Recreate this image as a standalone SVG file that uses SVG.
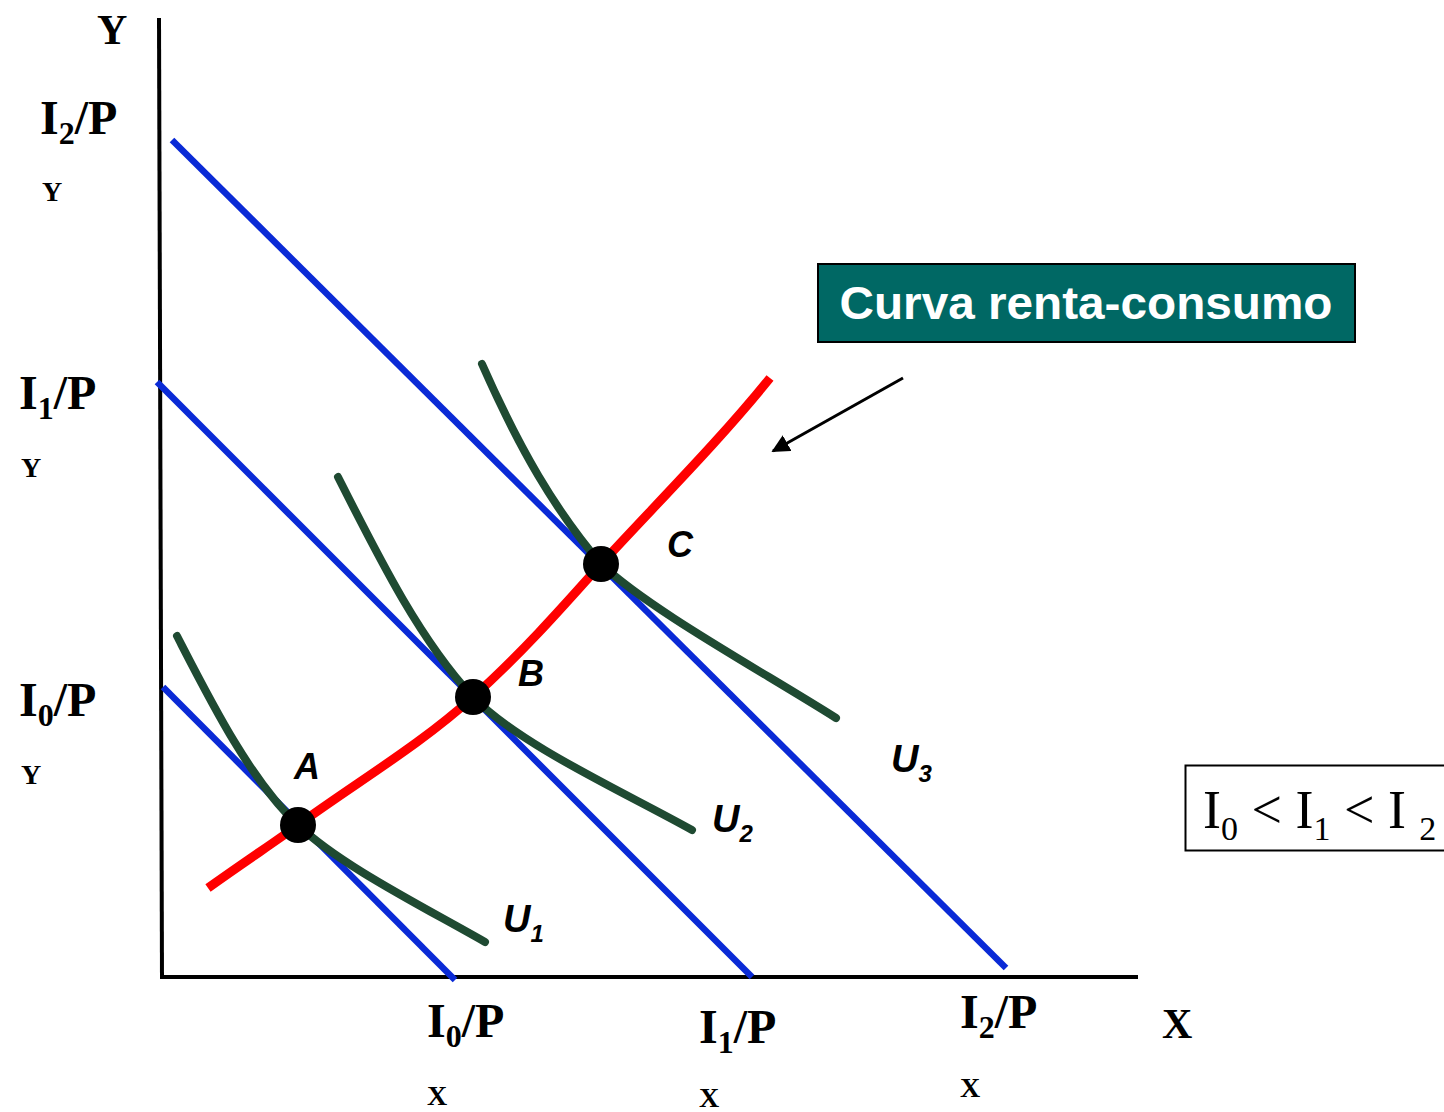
<svg xmlns="http://www.w3.org/2000/svg" width="1444" height="1112" viewBox="0 0 1444 1112">
<defs>
<style>
.ax{stroke:#000;stroke-width:4;fill:none}
.bl{stroke:#0a2ad6;stroke-width:6.5;fill:none}
.ic{stroke:#1f4a32;stroke-width:8;fill:none;stroke-linecap:round}
.rc{stroke:#ff0000;stroke-width:9;fill:none}
.lab{font-family:"Liberation Serif","Times New Roman",serif;font-weight:bold;fill:#000}
.pt{font-family:"Liberation Sans",Arial,sans-serif;font-weight:bold;font-style:italic;fill:#000}
</style>
<marker id="ah" viewBox="0 0 10 10" refX="9" refY="5" markerWidth="6" markerHeight="6" orient="auto" markerUnits="strokeWidth">
<path d="M0,0 L10,5 L0,10 z" fill="#000"/>
</marker>
</defs>
<rect width="1444" height="1112" fill="#fff"/>
<g id="axes">
<path class="ax" d="M159,18 L162,979"/>
<path class="ax" d="M161,977 L1138,977"/>
<text class="lab" x="97" y="44" font-size="42">Y</text>
<text class="lab" x="1162" y="1038" font-size="42">X</text>
</g>
<g id="budget-lines">
<path class="bl" d="M163,687 L455,980"/>
<path class="bl" d="M157,382 L752,977"/>
<path class="bl" d="M172,140 L1006,968"/>
</g>
<g id="connectors">
<path class="ic" d="M177,636 C210,700 250,780 298,825 C340,865 420,905 485,942"/>
<path class="ic" d="M338,477 C380,560 420,640 473,697 C520,745 620,790 692,830"/>
<path class="ic" d="M482,364 C520,450 555,510 601,564 C650,610 760,670 836,718"/>
<path class="rc" d="M208,888 C250,858 275,842 298,825 C360,780 420,745 473,697 C520,655 560,610 601,564 C660,500 720,440 770,378"/>
<path d="M903,378 L773,451" stroke="#000" stroke-width="3" fill="none" marker-end="url(#ah)"/>
</g>
<g id="point-A">
<circle cx="298" cy="825" r="18" fill="#000"/>
<text class="pt" x="294" y="779" font-size="36">A</text>
</g>
<g id="point-B">
<circle cx="473" cy="697" r="18" fill="#000"/>
<text class="pt" x="518" y="686" font-size="36">B</text>
</g>
<g id="point-C">
<circle cx="601" cy="564" r="18" fill="#000"/>
<text class="pt" x="667" y="557" font-size="36">C</text>
</g>
<g id="label-U1"><text class="pt" x="503" y="932" font-size="38">U<tspan font-size="24" dy="10">1</tspan></text></g>
<g id="label-U2"><text class="pt" x="712" y="832" font-size="38">U<tspan font-size="24" dy="10">2</tspan></text></g>
<g id="label-U3"><text class="pt" x="891" y="772" font-size="38">U<tspan font-size="24" dy="10">3</tspan></text></g>
<g id="y-labels">
<text class="lab" x="40" y="134" font-size="48">I<tspan font-size="32" dy="10">2</tspan><tspan dy="-10">/P</tspan></text>
<text class="lab" x="42" y="201" font-size="28">Y</text>
<text class="lab" x="19" y="409" font-size="48">I<tspan font-size="32" dy="10">1</tspan><tspan dy="-10">/P</tspan></text>
<text class="lab" x="21" y="477" font-size="28">Y</text>
<text class="lab" x="19" y="716" font-size="48">I<tspan font-size="32" dy="10">0</tspan><tspan dy="-10">/P</tspan></text>
<text class="lab" x="21" y="784" font-size="28">Y</text>
</g>
<g id="x-labels">
<text class="lab" x="427" y="1037" font-size="48">I<tspan font-size="32" dy="10">0</tspan><tspan dy="-10">/P</tspan></text>
<text class="lab" x="427" y="1105" font-size="28">X</text>
<text class="lab" x="699" y="1043" font-size="48">I<tspan font-size="32" dy="10">1</tspan><tspan dy="-10">/P</tspan></text>
<text class="lab" x="699" y="1107" font-size="28">X</text>
<text class="lab" x="960" y="1028" font-size="48">I<tspan font-size="32" dy="10">2</tspan><tspan dy="-10">/P</tspan></text>
<text class="lab" x="960" y="1097" font-size="28">X</text>
</g>
<g id="curva-renta-consumo-box">
<rect x="818" y="264" width="537" height="78" fill="#006864" stroke="#000" stroke-width="2"/>
<text x="1086" y="319" text-anchor="middle" font-family="'Liberation Sans',Arial,sans-serif" font-weight="bold" font-size="47" textLength="493" lengthAdjust="spacingAndGlyphs" fill="#fff">Curva renta-consumo</text>
</g>
<g id="income-order-box">
<rect x="1185.5" y="765.5" width="270" height="85" fill="#fff" stroke="#000" stroke-width="2"/>
<text x="1203" y="828" font-family="'Liberation Serif','Times New Roman',serif" font-size="54" fill="#000">I<tspan font-size="34" dy="12">0</tspan><tspan dy="-12"> &lt; I</tspan><tspan font-size="34" dy="12">1</tspan><tspan dy="-12"> &lt; I </tspan><tspan font-size="34" dy="12">2</tspan></text>
</g>
</svg>
